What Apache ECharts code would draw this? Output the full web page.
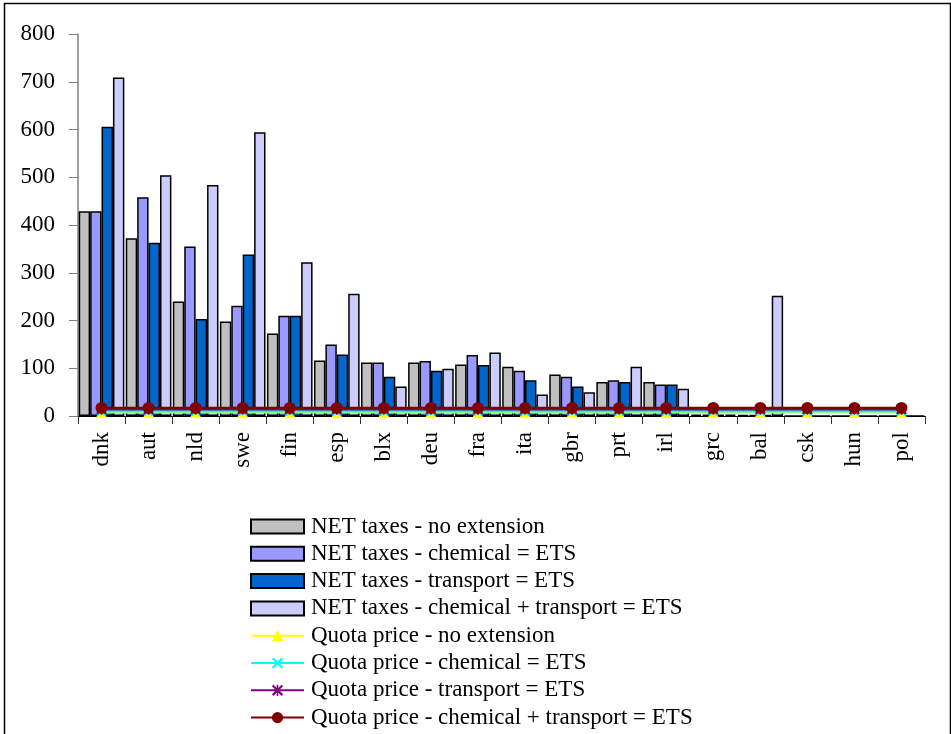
<!DOCTYPE html>
<html>
<head>
<meta charset="utf-8">
<title>NET taxes and quota price by country</title>
<script src="https://cdn.jsdelivr.net/npm/echarts@6/dist/echarts.min.js"></script>
<style>
  html, body { margin: 0; padding: 0; background: #fff; }
  #chart { width: 951px; height: 734px; }
</style>
</head>
<body>
<div id="chart"></div>
<script>
// Countries on the category axis
const categories = ['dnk', 'aut', 'nld', 'swe', 'fin', 'esp', 'blx', 'deu', 'fra', 'ita', 'gbr', 'prt', 'irl', 'grc', 'bal', 'csk', 'hun', 'pol'];

// NET taxes (bars)
const netNoExtension      = [429, 372, 240, 198, 173, 116, 112, 112, 108, 103, 87, 71, 71, 3, 2, 0, 0, 0];
const netChemical         = [429, 458, 355, 231, 210, 150, 112, 115, 128, 95, 82, 75, 66, 3, 2, 0, 0, 0];
const netTransport        = [606, 363, 203, 338, 210, 129, 82, 95, 107, 75, 62, 71, 66, 3, 2, 0, 0, 0];
const netChemTransport    = [709, 504, 484, 594, 322, 256, 62, 99, 133, 45, 50, 103, 57, 3, 252, 0, 0, 0];

// Quota prices (lines), one EU-wide price per scenario
const quotaNoExtension    = [8, 8, 8, 8, 8, 8, 8, 8, 8, 8, 8, 8, 8, 8, 8, 8, 8, 8];
const quotaChemical       = [10, 10, 10, 10, 10, 10, 10, 10, 10, 10, 10, 10, 10, 10, 10, 10, 10, 10];
const quotaTransport      = [14, 14, 14, 14, 14, 14, 14, 14, 14, 14, 14, 14, 14, 14, 14, 14, 14, 14];
const quotaChemTransport  = [17, 17, 17, 17, 17, 17, 17, 17, 17, 17, 17, 17, 17, 17, 17, 17, 17, 17];

// Y axis ticks
const yMin = 0, yMax = 800, yStep = 100;

const FONT = '"Liberation Serif", "Times New Roman", serif';
const FONT_SIZE = 23;

const CROSS = 'path://M0,1.4L1.4,0L5,3.6L8.6,0L10,1.4L6.4,5L10,8.6L8.6,10L5,6.4L1.4,10L0,8.6L3.6,5Z';
const STAR = CROSS + 'M4.3,0L5.7,0L5.7,10L4.3,10Z';

function barSeries(name, data, color) {
  return {
    name, type: 'bar', data,
    barGap: '0%', barCategoryGap: '3%',
    itemStyle: { color, borderColor: '#000', borderWidth: 1.5 },
    z: 2
  };
}
function lineSeries(name, data, color, symbol, size) {
  return {
    name, type: 'line', data,
    symbol, symbolSize: size, showSymbol: true,
    lineStyle: { color, width: 2.5 },
    itemStyle: { color },
    z: 4
  };
}

const chart = echarts.init(document.getElementById('chart'), null, { renderer: 'canvas' });
chart.setOption({
  animation: false,
  backgroundColor: '#fff',
  grid: { left: 78, right: 26, top: 34, bottom: 318, containLabel: false, outerBoundsMode: 'none' },
  legend: {
    orient: 'vertical', left: 250, top: 515,
    padding: 0,
    itemWidth: 53, itemHeight: 14, itemGap: 4.3,
    selectedMode: false,
    textStyle: { fontFamily: FONT, fontSize: FONT_SIZE, color: '#000', lineHeight: FONT_SIZE, padding: [0, 0, 0, 2] },
    data: [
      { name: 'NET taxes - no extension', icon: 'rect' },
      { name: 'NET taxes - chemical = ETS', icon: 'rect' },
      { name: 'NET taxes - transport = ETS', icon: 'rect' },
      { name: 'NET taxes - chemical + transport = ETS', icon: 'rect' },
      { name: 'Quota price - no extension' },
      { name: 'Quota price - chemical = ETS' },
      { name: 'Quota price - transport = ETS' },
      { name: 'Quota price - chemical + transport = ETS' }
    ]
  },
  xAxis: {
    type: 'category',
    data: categories,
    boundaryGap: true,
    axisLine: { show: true, lineStyle: { color: '#000', width: 1 } },
    axisTick: { show: true, alignWithLabel: false, length: 8, lineStyle: { color: '#333' } },
    axisLabel: { interval: 0, rotate: 90, margin: 16, fontFamily: FONT, fontSize: FONT_SIZE, color: '#000' },
    splitLine: { show: false }
  },
  yAxis: {
    type: 'value',
    min: yMin, max: yMax, interval: yStep,
    axisLine: { show: true, lineStyle: { color: '#808080', width: 1.5 } },
    axisTick: { show: true, inside: false, length: 9, lineStyle: { color: '#808080' } },
    axisLabel: { margin: 23, fontFamily: FONT, fontSize: FONT_SIZE, color: '#000' },
    splitLine: { show: false }
  },
  series: [
    barSeries('NET taxes - no extension', netNoExtension, '#C0C0C0'),
    barSeries('NET taxes - chemical = ETS', netChemical, '#9999FF'),
    barSeries('NET taxes - transport = ETS', netTransport, '#0066CC'),
    barSeries('NET taxes - chemical + transport = ETS', netChemTransport, '#CCCCFF'),
    lineSeries('Quota price - no extension', quotaNoExtension, '#FFFF00', 'triangle', 11),
    lineSeries('Quota price - chemical = ETS', quotaChemical, '#00FFFF', CROSS, 10),
    lineSeries('Quota price - transport = ETS', quotaTransport, '#800080', STAR, 11),
    lineSeries('Quota price - chemical + transport = ETS', quotaChemTransport, '#800000', 'circle', 12)
  ],
  graphic: [{
    type: 'rect', silent: true, z: 100,
    left: 2, top: 1,
    shape: { width: 946, height: 760 },
    style: { fill: 'none', stroke: '#000', lineWidth: 1.5 }
  }]
});
</script>
</body>
</html>
